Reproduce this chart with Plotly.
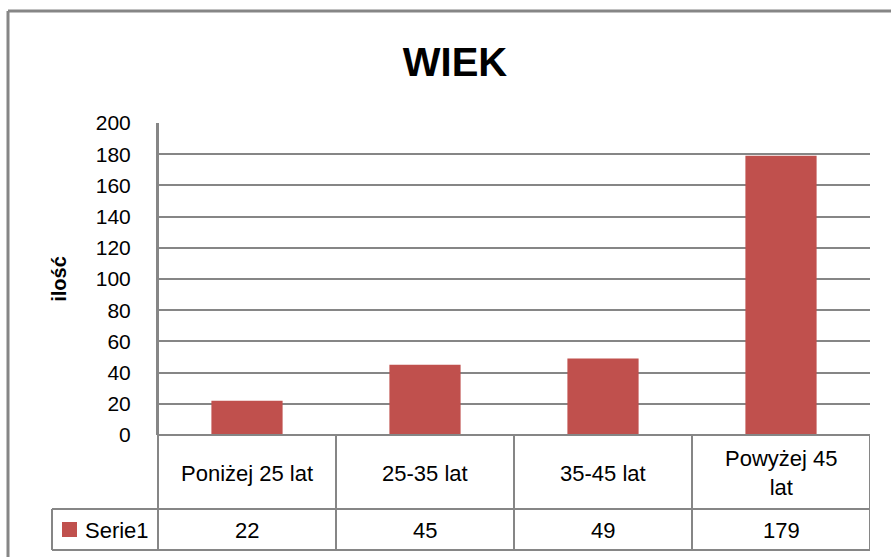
import plotly.graph_objects as go

KATEGORIE = ["Poniżej 25 lat", "25-35 lat", "35-45 lat", "Powyżej 45 lat"]
ETYKIETY = ["Poniżej 25 lat", "25-35 lat", "35-45 lat", "Powyżej 45<br>lat"]
WARTOSCI = [22, 45, 49, 179]
SERIA = "Serie1"

KOLOR = "#C0504D"
SZARY = "#868686"
FONT = "Liberation Sans"

W, H = 891, 557
L, R, T, B = 158, 870, 123, 435  # obszar wykresu w pikselach


def px_x(x):
    return (x - L) / (R - L)


def px_y(y):
    return (B - y) / (B - T)


fig = go.Figure(go.Bar(x=KATEGORIE, y=WARTOSCI, marker_color=KOLOR,
                       marker_line_width=0, name=SERIA, showlegend=False))

# linie tabeli danych i ramka
linie = [
    # ramka zewnetrzna (prawa i dolna krawedz poza kadrem)
    dict(type="line", x0=px_x(8), x1=px_x(1000), y0=px_y(11), y1=px_y(11), width=3),
    dict(type="line", x0=px_x(8), x1=px_x(8), y0=px_y(11), y1=px_y(700), width=3),
    # os y przechodzi przez tabele
    dict(type="line", x0=0, x1=0, y0=1, y1=px_y(550), width=2),
    dict(type="line", x0=0, x1=1, y0=0, y1=0, width=2),
    dict(type="line", x0=px_x(52), x1=1, y0=px_y(509), y1=px_y(509), width=2),
    dict(type="line", x0=px_x(52), x1=1, y0=px_y(550), y1=px_y(550), width=2),
    dict(type="line", x0=px_x(52), x1=px_x(52), y0=px_y(509), y1=px_y(550), width=2),
]
shapes = []
for s in linie:
    w = s.pop("width")
    shapes.append(dict(xref="paper", yref="paper", line=dict(color=SZARY, width=w), **s))
for i in range(len(KATEGORIE)):
    shapes.append(dict(type="line", xref="x", yref="paper", x0=i + 0.5, x1=i + 0.5,
                       y0=0, y1=px_y(550), line=dict(color=SZARY, width=2)))
# znacznik serii
shapes.append(dict(type="rect", xref="paper", yref="paper", x0=px_x(62), x1=px_x(77),
                   y0=px_y(522), y1=px_y(537), fillcolor=KOLOR, line_width=0))

annotations = []
for kat, et, v in zip(KATEGORIE, ETYKIETY, WARTOSCI):
    annotations.append(dict(x=kat, xref="x", y=px_y(473), yref="paper", text=et,
                            xanchor="center", yanchor="middle",
                            showarrow=False, font=dict(size=22, color="black")))
    annotations.append(dict(x=kat, xref="x", y=px_y(530), yref="paper", text=str(v),
                            xanchor="center", yanchor="middle",
                            showarrow=False, font=dict(size=22, color="black")))
annotations.append(dict(x=px_x(83), xref="paper", y=px_y(530), yref="paper", text=SERIA,
                        xanchor="left", yanchor="middle",
                        showarrow=False, font=dict(size=22, color="black")))

fig.update_layout(
    width=W, height=H,
    margin=dict(l=L, r=W - R, t=T, b=H - B, pad=0),
    paper_bgcolor="white", plot_bgcolor="white",
    font=dict(family=FONT, color="black"),
    title=dict(text="<b>WIEK</b>", x=455 / W, xanchor="center", xref="container",
               y=1 - 62 / H, yanchor="middle", yref="container",
               font=dict(size=40, family=FONT, color="black")),
    bargap=0.6,
    shapes=shapes,
    annotations=annotations,
)
fig.update_xaxes(showticklabels=False, showgrid=False, showline=False, zeroline=False,
                 range=[-0.5, 3.5])
fig.update_yaxes(range=[0, 200], dtick=20, showgrid=True, gridcolor=SZARY, gridwidth=1.5,
                 zeroline=False, showline=True, linecolor=SZARY, linewidth=2,
                 tickfont=dict(size=21, color="black"), ticks="", ticklabelstandoff=21,
                 title=dict(text="<b>ilość</b>", font=dict(size=20, color="black"), standoff=24))

# bez domyslnego marginesu body, zeby wykres zaczynal sie w rogu okna
fig.write_html("out.html", config={"displayModeBar": False},
               post_script="document.body.style.margin='0';")
